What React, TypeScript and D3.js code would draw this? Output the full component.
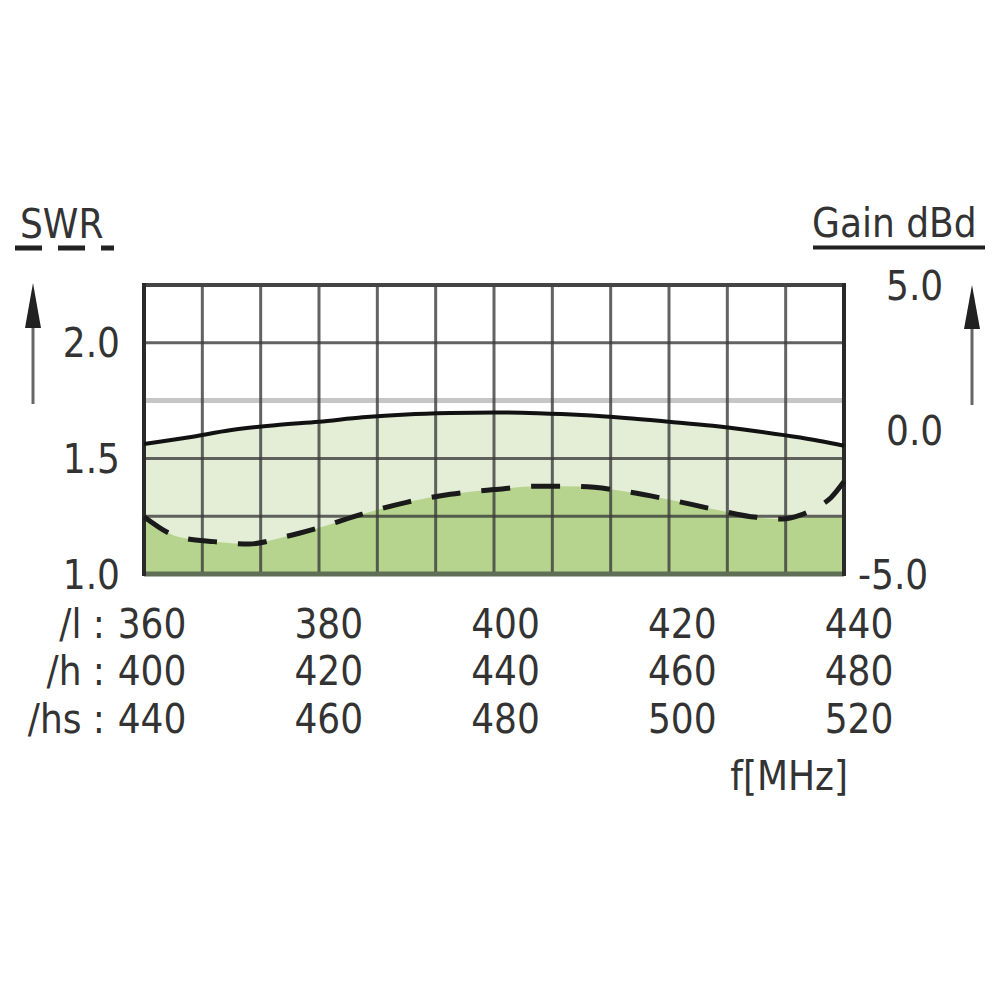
import React from "react";
import * as d3 from "d3";

// ---- data ----
const FREQ = [360, 364, 368, 372, 376, 380, 385, 390, 395, 400, 405, 410, 415, 420, 425, 430, 433, 435, 437, 438.5, 440];
const SWR = [1.248, 1.16, 1.14, 1.13, 1.16, 1.2, 1.26, 1.31, 1.345, 1.365, 1.38, 1.378, 1.357, 1.322, 1.281, 1.245, 1.238, 1.255, 1.29, 1.33, 1.4];
const SWR_FILL = [1.248, 1.16, 1.14, 1.13, 1.16, 1.2, 1.26, 1.31, 1.345, 1.365, 1.38, 1.378, 1.357, 1.322, 1.281, 1.245, 1.238, 1.246, 1.246, 1.246, 1.246];
const GAIN_FREQ = [360, 365, 370, 375, 380, 385, 390, 395, 400, 405, 410, 415, 420, 425, 430, 435, 440];
const GAIN = [-0.5, -0.28, -0.02, 0.15, 0.27, 0.42, 0.52, 0.57, 0.59, 0.56, 0.5, 0.4, 0.27, 0.13, -0.06, -0.28, -0.56];

const SWR_TICKS = [1.0, 1.5, 2.0];
const SWR_GRID = [1.25, 1.5, 2.0];
const SWR_REF = 1.75;
const GAIN_TICKS = [5.0, 0.0, -5.0];
const X_TICKS = [360, 380, 400, 420, 440];
const ROW_NAMES = ["/l :", "/h :", "/hs :"];
const ROW_OFFSETS = [0, 40, 80];
const V_GRID_COUNT = 12;

const FONT = "'DejaVu Sans Condensed', 'DejaVu Sans', sans-serif";

export default function App() {
  const x = d3.scaleLinear().domain([360, 440]).range([144, 844]);
  const ySwr = d3.scaleLinear().domain([1.0, 2.25]).range([574, 285]);
  const yGain = d3.scaleLinear().domain([-5, 5]).range([574, 285]);
  const xLabel = d3.scaleLinear().domain([360, 440]).range([152, 859]);

  const vGrid = d3.range(V_GRID_COUNT + 1).map((i) => 360 + (i * 80) / V_GRID_COUNT);

  const gainPts: [number, number][] = GAIN_FREQ.map((f, i) => [f, GAIN[i]]);
  const swrPts: [number, number][] = FREQ.map((f, i) => [f, SWR[i]]);
  const swrFillPts: [number, number][] = FREQ.map((f, i) => [f, SWR_FILL[i]]);

  const gainArea = d3
    .area<[number, number]>()
    .x((d) => x(d[0]))
    .y0(ySwr(1.0))
    .y1((d) => yGain(d[1]))
    .curve(d3.curveMonotoneX)(gainPts) as string;
  const gainLine = d3
    .line<[number, number]>()
    .x((d) => x(d[0]))
    .y((d) => yGain(d[1]))
    .curve(d3.curveMonotoneX)(gainPts) as string;
  const swrArea = d3
    .area<[number, number]>()
    .x((d) => x(d[0]))
    .y0(ySwr(1.0))
    .y1((d) => ySwr(d[1]))
    .curve(d3.curveMonotoneX)(swrFillPts) as string;
  const swrLine = d3
    .line<[number, number]>()
    .x((d) => x(d[0]))
    .y((d) => ySwr(d[1]))
    .curve(d3.curveMonotoneX)(swrPts) as string;

  const textStyle = { fontFamily: FONT, fontStretch: "condensed" as const };

  return (
    <svg width={1000} height={1000} style={{ position: "absolute", left: 0, top: 0, background: "#fff" }}>
      {/* fills */}
      <path d={gainArea} fill="#e4eed7" />
      <path d={swrArea} fill="#b6d48d" />

      {/* reference line */}
      <line x1={x(360)} x2={x(440)} y1={ySwr(SWR_REF)} y2={ySwr(SWR_REF)} stroke="#c6c6c6" strokeWidth={5} />

      {/* horizontal grid */}
      {SWR_GRID.map((v) => (
        <line key={"h" + v} x1={x(360)} x2={x(440)} y1={ySwr(v)} y2={ySwr(v)} stroke="#3c3c3c" strokeOpacity={0.8} strokeWidth={3} />
      ))}
      {/* vertical grid */}
      {vGrid.map((f, i) => (
        <line key={"v" + i} x1={x(f)} x2={x(f)} y1={ySwr(2.25)} y2={ySwr(1.0)} stroke="#3c3c3c" strokeOpacity={0.8} strokeWidth={3} />
      ))}
      {/* frame */}
      <line x1={x(360)} x2={x(440)} y1={ySwr(2.25)} y2={ySwr(2.25)} stroke="#444" strokeWidth={4} />
      <line x1={x(360)} x2={x(440)} y1={ySwr(1.0)} y2={ySwr(1.0)} stroke="#5f6f55" strokeWidth={5} />
      <line x1={x(360)} x2={x(360)} y1={ySwr(2.25) - 2} y2={ySwr(1.0) + 2} stroke="#2a2a2a" strokeWidth={4} />
      <line x1={x(440)} x2={x(440)} y1={ySwr(2.25) - 2} y2={ySwr(1.0) + 2} stroke="#2a2a2a" strokeWidth={4} />

      {/* curves */}
      <path d={gainLine} fill="none" stroke="#111" strokeWidth={4} />
      <path d={swrLine} fill="none" stroke="#1a1a1a" strokeWidth={5} strokeDasharray="29 21" />

      {/* titles */}
      <text x={20} y={238} fontSize={40} fill="#333" style={textStyle}>SWR</text>
      <line x1={15} x2={114} y1={248} y2={248} stroke="#222" strokeWidth={5} strokeDasharray="27 16" />
      <text x={812} y={237} fontSize={40} fill="#333" style={textStyle}>Gain dBd</text>
      <line x1={813} x2={985} y1={247.5} y2={247.5} stroke="#222" strokeWidth={4} />

      {/* arrows */}
      <line x1={33} x2={33} y1={326} y2={404} stroke="#666" strokeWidth={3} />
      <path d={`M33,283 L25,328 L41,328 Z`} fill="#222" />
      <line x1={972} x2={972} y1={326} y2={405} stroke="#666" strokeWidth={3} />
      <path d={`M972,285 L964,329 L980,329 Z`} fill="#222" />

      {/* left ticks */}
      {SWR_TICKS.map((v) => (
        <text key={"l" + v} x={120} y={ySwr(v) + 14.5} fontSize={40} fill="#333" textAnchor="end" style={textStyle}>
          {v.toFixed(1)}
        </text>
      ))}
      {/* right ticks */}
      {GAIN_TICKS.map((v) => (
        <text key={"r" + v} x={v < 0 ? 858 : 886} y={yGain(v) + 15} fontSize={40} fill="#333" textAnchor="start" style={textStyle}>
          {v.toFixed(1)}
        </text>
      ))}

      {/* bottom rows */}
      {ROW_NAMES.map((name, r) => (
        <g key={name}>
          <text x={105} y={637.5 + r * 47.5} fontSize={40} fill="#333" textAnchor="end" style={textStyle}>
            {name}
          </text>
          {X_TICKS.map((t) => (
            <text key={t} x={xLabel(t)} y={637.5 + r * 47.5} fontSize={40} fill="#333" textAnchor="middle" style={textStyle}>
              {t + ROW_OFFSETS[r]}
            </text>
          ))}
        </g>
      ))}
      <text x={848} y={790} fontSize={40} fill="#333" textAnchor="end" style={textStyle}>f[MHz]</text>
    </svg>
  );
}
